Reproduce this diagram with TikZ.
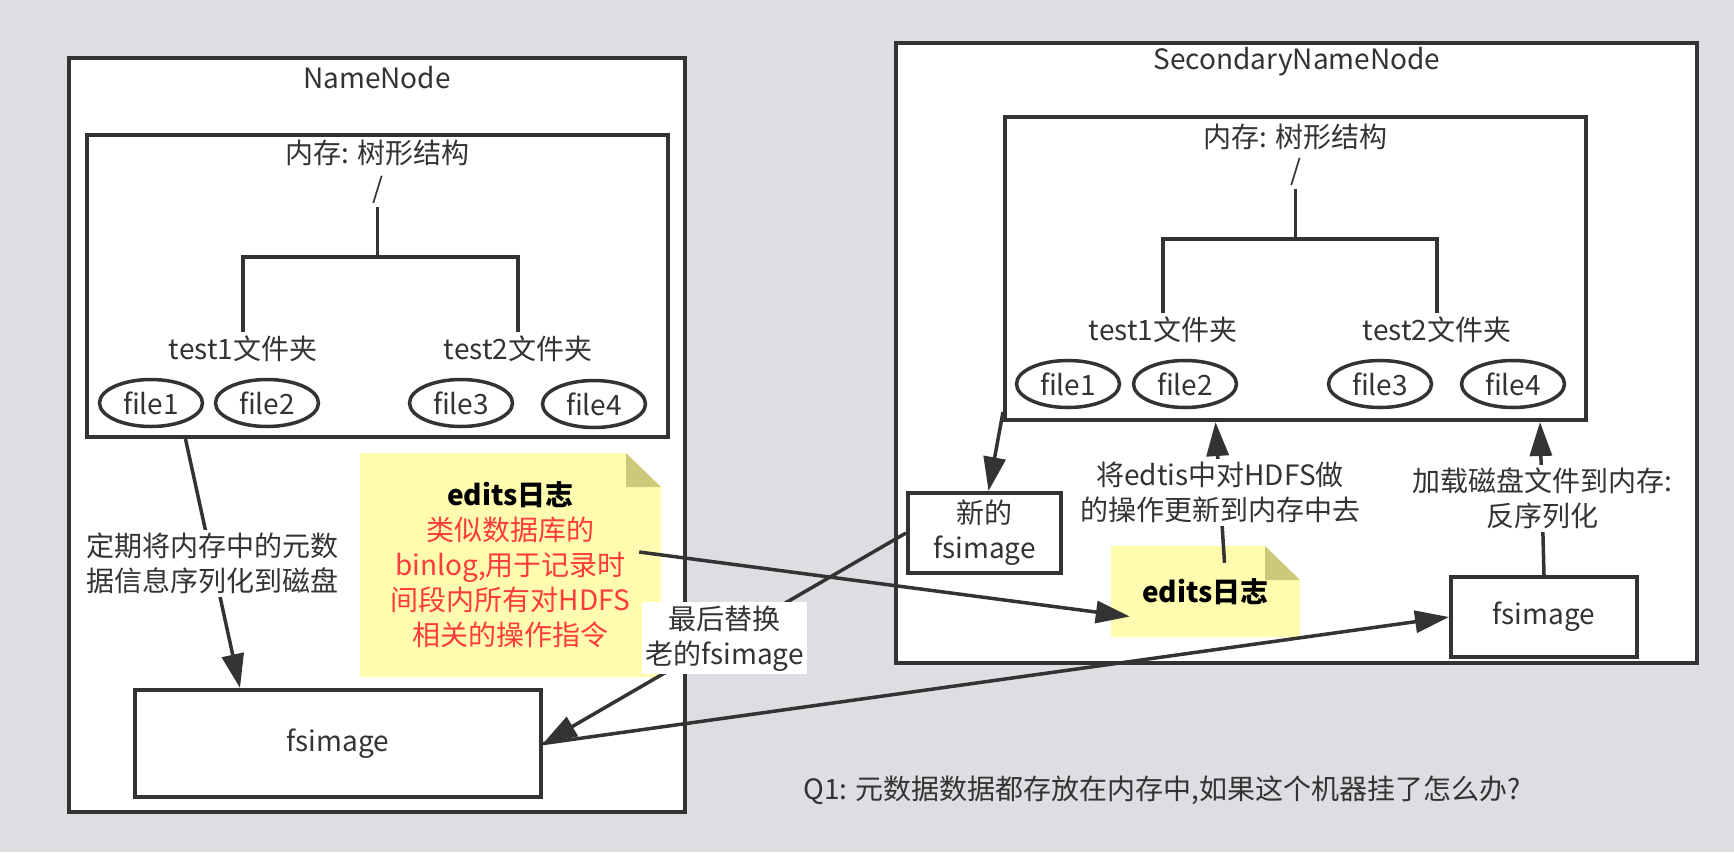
\documentclass[tikz,border=0pt]{standalone}
\usepackage{fontspec}
\setmainfont{Noto Sans CJK SC}
\usepackage{tikz}
\usetikzlibrary{arrows.meta,shapes.geometric,positioning}

\definecolor{bggrey}{RGB}{221,222,226}
\definecolor{ink}{RGB}{51,51,51}
\definecolor{noteyellow}{RGB}{255,252,176}
\definecolor{notefold}{RGB}{204,201,122}
\definecolor{notered}{RGB}{255,59,59}

\begin{document}
\begin{tikzpicture}[x=1pt,y=-1pt,>={Triangle[length=34pt,width=22pt]}]
            \tikzstyle{every node}=[font=\fontsize{28}{35}\selectfont,text=ink]
            \tikzstyle{box}=[rectangle,draw=ink,line width=4pt,fill=white]
            \tikzstyle{leaf}=[ellipse,draw=ink,line width=3.5pt,minimum width=103pt,minimum height=47pt,inner sep=0pt]
            \tikzstyle{tree}=[draw=ink,line width=3.5pt]
            \tikzstyle{lbl}=[fill=white,align=center,inner sep=3pt]
            \tikzstyle{note}=[rectangle,fill=white,align=center,path picture={
                \fill[noteyellow] (path picture bounding box.south west) -- (path picture bounding box.north west)
                    -- ([xshift=-35pt]path picture bounding box.north east) -- ([yshift=-34pt]path picture bounding box.north east)
                    -- (path picture bounding box.south east) -- cycle;
                \fill[notefold] ([xshift=-35pt]path picture bounding box.north east) -- ([xshift=-35pt,yshift=-34pt]path picture bounding box.north east)
                    -- ([yshift=-34pt]path picture bounding box.north east) -- cycle;}]

            \tikzstyle{every edge}=[draw=ink,line width=3.5pt]

            \useasboundingbox[fill=bggrey] (0,0) rectangle (1734,852);

            % NameNode
            \node[box,minimum width=616pt,minimum height=754pt] (nn) at (377,435) {};
            \node (nntitle) at (377,78) {NameNode};
            \begin{scope}[shift={(87,135)}]
            \node[box,minimum width=581pt,minimum height=302pt] (nnmem) at (290.5,151) {};
            \node (nnmemttl) at (290.5,18) {内存: 树形结构};
            \node (nnroot) at (290.5,55) {/};
            \node (nntest1) at (156,214) {test1文件夹};
            \node (nntest2) at (431,214) {test2文件夹};
            \node[leaf] (nnf1) at (64,268) {file1};
            \node[leaf] (nnf2) at (180,268) {file2};
            \node[leaf] (nnf3) at (374,268) {file3};
            \node[leaf] (nnf4) at (507,269) {file4};
            \draw[tree] (nnroot.south) -- ++(0,50) coordinate (nnfork);
            \draw[tree] (nntest1.north) |- (nnfork) -| (nntest2.north);
            \end{scope}
            \node[box,minimum width=406pt,minimum height=107pt] (nnfs) at (338,743.5) {fsimage};

            % SecondaryNameNode
            \node[box,minimum width=801pt,minimum height=620pt] (snn) at (1296.5,353) {};
            \node (snntitle) at (1297,62) {SecondaryNameNode};
            \begin{scope}[shift={(1005,117)}]
            \node[box,minimum width=581pt,minimum height=303pt] (smem) at (290.5,151.5) {};
            \node (smemttl) at (290.5,20) {内存: 树形结构};
            \node (sroot) at (290.5,55) {/};
            \node (stest1) at (158,213) {test1文件夹};
            \node (stest2) at (432,213) {test2文件夹};
            \node[leaf] (sf1) at (63,267) {file1};
            \node[leaf] (sf2) at (180,267) {file2};
            \node[leaf] (sf3) at (375,267) {file3};
            \node[leaf] (sf4) at (508,267) {file4};
            \draw[tree] (sroot.south) -- ++(0,50) coordinate (sfork);
            \draw[tree] (stest1.north) |- (sfork) -| (stest2.north);
            \end{scope}
            \node[box,align=center,minimum width=153pt,minimum height=80pt] (newfs) at (984.5,533) {新的\\fsimage};
            \node[box,minimum width=186pt,minimum height=80pt] (sfs) at (1544,617) {fsimage};

            % edits notes
            \node[note,minimum width=301pt,minimum height=224pt] (bignote) at (510.5,565)
                {\textbf{\color{black}edits日志}\\\textcolor{notered}{类似数据库的}\\\textcolor{notered}{binlog,用于记录时}\\
                 \textcolor{notered}{间段内所有对HDFS}\\\textcolor{notered}{相关的操作指令}};
            \node[note,minimum width=189pt,minimum height=91pt] (enote) at (1205.5,591.5) {\textbf{\color{black}edits日志}};

            \node[anchor=west] (q1) at (800,790) {Q1: 元数据数据都存放在内存中,如果这个机器挂了怎么办?};

            \path[->] ([xshift=-192pt]nnmem.south) edge node[lbl] {定期将内存中的元数\\据信息序列化到磁盘} ([xshift=-98pt]nnfs.north);
            \path[->] ([xshift=-22pt,yshift=13pt]bignote.east) edge ([xshift=19pt,yshift=-25pt]enote.west);
            \path[->] (nnfs.east) edge (sfs.west);
            \path[->] ([yshift=10pt]smem.south west) edge ([xshift=4pt]newfs.north);
            \path[->] ([xshift=19pt,yshift=-17pt]enote.north) edge node[lbl] {将edtis中对HDFS做\\的操作更新到内存中去} ([xshift=-80pt]smem.south);
            \path[->] (sfs.north) edge node[lbl] {加载磁盘文件到内存:\\反序列化} ([xshift=-48pt]smem.south east);
            \path[->] (newfs.west) edge node[lbl] {最后替换\\老的fsimage} (nnfs.east);
        \end{tikzpicture}
\end{document}
